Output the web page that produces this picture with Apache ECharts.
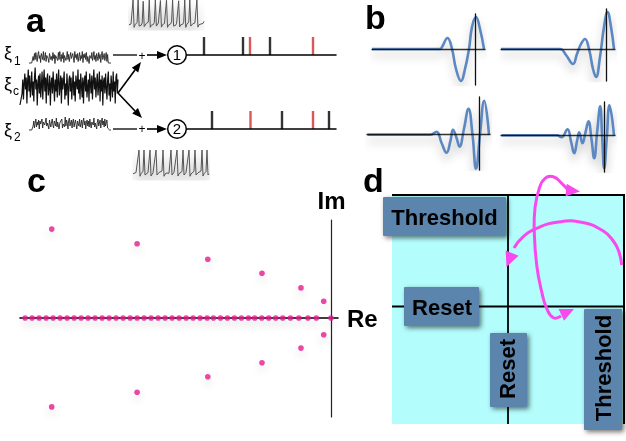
<!DOCTYPE html>
<html>
<head>
<meta charset="utf-8">
<script src="https://cdn.jsdelivr.net/npm/echarts@6/dist/echarts.min.js"></script>
<style>
  html, body { margin: 0; padding: 0; background: #fff; }
  #chart { width: 626px; height: 441px; }
</style>
</head>
<body>
<div id="chart"></div>
<script>
// ---- panel a: input noise (hand-read, arbitrary units) ----
const xi1 = [-5.5,-5.5,-5.5,-5.5,-5.5,-5.5,
  1,-3,4,-2,5,0,-4,3,6,-1, 2,-5,4,1,-2,6,-3,0,5,-4, 2,3,-1,-5,4,6,-2,1,-3,5,
  -1,3,-6,2,4,0,-3,5,-2,6, 1,-4,3,-1,5,-5,2,4,-3,0, 6,-2,3,-4,1,5,-1,-3,4,2,
  -5,6,0,3,-2,4,-4,1,5,-3, 2,-1,6,-5,3,0,4,-2,5,-4, 1,3,-6,2,4,-1,5,-3,0,6,
  -2,2,-4,4,1,-3,5,-1,3,-5, 2,6,-2,0,4,-3,1,5,-4,3,
  -5.5,-5.5,-5.5,-5.5,-5.5];
const xic = [-17.5,-17.5,-17.5,
  -6,8,-12,4,14,-2,10,-16,6,18, -4,12,-10,2,16,-8,6,-14,10,20, -2,8,-18,4,12,-6,14,-10,2,16,
  -12,6,18,-4,10,-16,8,14,-8,0, 12,-18,4,10,-6,16,2,-14,8,-4, 14,-10,6,18,-8,2,12,-16,10,-2,
  6,16,-12,4,-8,14,0,-18,8,12, -4,10,-12,2,16,-8,6,-14,12,4, -2,18,-6,8,-12,14,2,-10,10,-16,
  6,12,-4,16,-10,0,8,-14,14,4, -6,12,-12,6,18,-2,10,-10,4,14, -8,2,16,-14,8,-4,12,-18,6,10,
  -6,14,0,-12,8,16,-8,4,-14,12, 2,-10,16,-4,6,-16,10,14,-6,8];
const xi2 = [-6,-6,-6,-6,-6,-6,
  -2,3,-4,1,5,-3,2,-1,4,-5, 3,0,-2,5,-4,2,4,-1,-3,6, -2,1,3,-5,4,0,-3,2,5,-1,
  -4,3,1,-2,6,-3,2,4,-5,1, 3,-1,5,-4,0,2,-3,7,-2,4, 1,-5,3,6,-2,0,4,-4,2,5,
  -3,1,4,-1,-5,3,2,-2,5,-3, 0,4,-4,2,6,-1,3,-5,1,4, -2,3,-3,5,0,-4,2,4,-1,6,
  -3,1,3,-5,2,5,-2,0,4,-4, 2,6,-1,3,-3,5,-2,1,4,-4,
  -6,-6,-6,-6,-6];

// membrane potential traces (spike = 1)
const vTop = [0.05,0,0.08,0.12,1,-0.05,0.05,0.1,0.14,1,0,0.06,0.03,0.12,0.95,-0.02,0.04,0.1,0.07,0.15,
  1,-0.05,0.03,0.09,0.06,0.14,1,0,0.07,0.12,0.1,0.98,-0.04,0.05,0.02,0.1,0.15,1,-0.05,0.04,
  0.1,0.08,0.16,1,0,0.06,0.03,0.11,0.14,0.97,-0.03,0.05,0.1,0.07,0.15,1,-0.05,0.06,0.12,0.16,
  1,0,0.05,0.09,0.06,0.12,0.16,1,-0.04,0.05,0.1,0.08,0.14,0.1,0.18];
const vBottom = [0.05,0,0.06,0.1,0.07,0.14,1,-0.05,0.05,0.1,0.15,1,0,0.06,0.03,0.1,0.14,1,-0.04,0.04,
  0.09,0.06,0.15,1,0,0.05,0.1,0.07,0.12,0.16,1,-0.05,0.03,0.08,0.05,0.1,0.07,0.15,1,0,
  0.06,0.11,0.15,0.16,1,-0.04,0.05,0.09,0.06,0.14,1,0,0.06,0.1,0.08,0.15,1,-0.05,0.04,0.1,
  0.07,0.15,1,0,0.05,0.09,0.06,0.12,0.16,1,-0.04,0.05,0.1,0.14,1,0,0.05];

// spike rasters (ms); red = synchronous spikes
const row1Spikes = [17, 56, 83];
const row1Sync = [63, 126];
const row2Spikes = [25, 95, 142];
const row2Sync = [63.5, 126];

// ---- panel b: four filters, [t, amplitude] ----
const filterA = [[-103,0],[-35,0],[-33,2],[-27.5,11],[-23,0],[-19,-20],[-14,-32],[-10,-20],[-6,0],[-3,22],[1,32],[5,20],[9,0]];
const filterB = [[-105,0],[-46,0],[-40,-6],[-33,-15],[-29,-5],[-25,5],[-21,10],[-17,0],[-13,-20],[-10,-28],[-6,-8],[-2,22],[1.5,37],[5,22],[8,0]];
const filterC = [[-112,0],[-49,0],[-43,3],[-38,-8],[-33,-18],[-29,-6],[-26.5,5],[-23,-3],[-20,-12],[-15.5,6],[-11,26],[-7,0],[-3.5,-34],[0.5,0],[4.7,34],[9.5,0]];
const filterD = [[-103,0],[-47.5,0],[-43,-2],[-37,6],[-33.5,-6],[-30.3,-18],[-27.5,-6],[-25.3,3],[-22,-8],[-19,3],[-16,14],[-13,-4],[-10.3,-23],[-7.3,4],[-4.3,29],[-2.3,-2],[-0.3,-33],[2.3,-2],[5,30],[9.5,0]];

// ---- panel c: eigenvalues ----
const realEig = [-43.7,-42.7,-41.7,-40.7,-39.7,-38.7,-37.7,-36.7,-35.7,-34.7,-33.7,-32.7,-31.7,-30.7,
  -29.7,-28.7,-27.7,-26.7,-25.7,-24.7,-23.7,-22.7,-21.7,-20.7,-19.7,-18.7,-17.7,-16.8,-15.8,-14.8,
  -13.8,-12.8,-11.8,-10.9,-9.9,-8.9,-7.9,-6.9,-5.8,-4.6,-3.3,-2.1,0];
const complexRe = [-39.9, -27.7, -17.6, -9.86, -4.29, -1.04];
const complexIm = [12.7, 10.6, 8.4, 6.4, 4.3, 2.4];

const FONT = '"Liberation Sans", Arial, sans-serif';
const PINK = '#e8198e';
const MAGENTA = '#f74aee';
const BLUE = '#5b87c2';

const grids = [], xAxes = [], yAxes = [], series = [];
function panel(rect, xa, ya) {
  const i = grids.length;
  grids.push(rect);
  xAxes.push(Object.assign({ gridIndex: i, type: 'value' }, xa));
  yAxes.push(Object.assign({ gridIndex: i, type: 'value' }, ya));
  return i;
}
const hiddenAxis = (min, max) => ({ show: false, min, max });
const crossAxis = (min, max, color, width) => ({
  min, max, z: 5,
  axisLine: { show: true, onZero: true, lineStyle: { color, width } },
  axisTick: { show: false }, axisLabel: { show: false }, splitLine: { show: false }
});
const indexed = (arr) => arr.map((v, i) => [i, v]);

function trace(rect, values, ymin, ymax, style) {
  const g = panel(rect, hiddenAxis(0, values.length - 1), hiddenAxis(ymin, ymax));
  series.push({
    type: 'line', xAxisIndex: g, yAxisIndex: g, data: indexed(values),
    showSymbol: false, silent: true, lineStyle: style
  });
}

trace({ left: 29, top: 50, width: 82, height: 15 }, xi1, -7.5, 7.5, { color: '#262626', width: 0.9 });
trace({ left: 20, top: 65, width: 98, height: 45 }, xic, -22.5, 22.5, { color: '#111', width: 1.2 });
trace({ left: 29, top: 116, width: 82, height: 16 }, xi2, -8, 8, { color: '#262626', width: 0.9 });
const spikeStyle = { color: '#555', width: 1, shadowBlur: 12, shadowColor: 'rgba(0,0,0,0.35)', shadowOffsetY: 8 };
trace({ left: 129, top: 0, width: 75, height: 30 }, vTop, -0.15, 1, spikeStyle);
trace({ left: 133, top: 150, width: 76, height: 30 }, vBottom, -0.2, 1, spikeStyle);

function raster(top, black, red) {
  const g = panel({ left: 187, top, width: 149, height: 18 },
    crossAxis(0, 149, '#000', 1.5), hiddenAxis(0, 1));
  [[black, '#000'], [red, '#d0302f']].forEach(([times, color]) => {
    series.push({
      type: 'scatter', xAxisIndex: g, yAxisIndex: g, silent: true,
      data: times.map((t) => [t, 0.5]), symbol: 'rect', symbolSize: [2.4, 18],
      itemStyle: { color }
    });
  });
}
raster(37, row1Spikes, row1Sync);
raster(111, row2Spikes, row2Sync);

function filter(rect, data, xr, yr) {
  const g = panel(rect, crossAxis(xr[0], xr[1], 'rgba(0,0,0,0.8)', 1.3),
    crossAxis(yr[0], yr[1], '#111', 1.3));
  series.push({
    type: 'line', xAxisIndex: g, yAxisIndex: g, data, smooth: 0.45,
    showSymbol: false, silent: true,
    lineStyle: { color: BLUE, width: 2.6, shadowBlur: 10, shadowColor: 'rgba(0,0,0,0.25)', shadowOffsetY: 6 }
  });
}
filter({ left: 372, top: 14, width: 113, height: 71 }, filterA, [-103, 10], [-36, 35]);
filter({ left: 501, top: 9, width: 114, height: 72 }, filterB, [-105, 9], [-32, 40]);
filter({ left: 367, top: 97, width: 123, height: 73 }, filterC, [-112.5, 10.5], [-35.3, 37.7]);
filter({ left: 501, top: 102, width: 114, height: 70 }, filterD, [-103.5, 10.5], [-36.7, 33.3]);

const gc = panel({ left: 20, top: 220, width: 318, height: 197 },
  crossAxis(-44.43, 1.0, '#000', 1.6), crossAxis(-14.14, 14.0, '#222', 1.2));
const eigPoints = realEig.map((r) => [r, 0]);
complexRe.forEach((r, i) => { eigPoints.push([r, complexIm[i]]); eigPoints.push([r, -complexIm[i]]); });
series.push({
  type: 'scatter', xAxisIndex: gc, yAxisIndex: gc, data: eigPoints, symbolSize: 5.6, z: 6,
  silent: true,
  itemStyle: { color: PINK, shadowBlur: 8, shadowColor: 'rgba(0,0,0,0.18)', shadowOffsetY: 5 }
});

// ---- drawn diagram parts ----
function head(tx, ty, fx, fy, len, w, color, z) {
  const a = Math.atan2(ty - fy, tx - fx);
  const bx = tx - len * Math.cos(a), by = ty - len * Math.sin(a);
  const px = -Math.sin(a) * w, py = Math.cos(a) * w;
  return { type: 'polygon', z: z || 5, silent: true,
    shape: { points: [[tx, ty], [bx + px, by + py], [bx - px, by - py]] }, style: { fill: color } };
}
const seg = (x1, y1, x2, y2, color, width, z) => ({
  type: 'line', z: z || 4, silent: true, shape: { x1, y1, x2, y2 }, style: { stroke: color, lineWidth: width }
});
const label = (text, x, y, size, opts) => ({
  type: 'text', x, y, z: 8, silent: true, rotation: (opts && opts.rotation) || 0,
  style: Object.assign({ text, font: `bold ${size}px ${FONT}`, fill: '#000',
    align: 'left', verticalAlign: 'middle' }, opts && opts.style)
});
const box = (x, y, w, h) => ({
  type: 'rect', z: 6, silent: true, shape: { x, y, width: w, height: h, r: 1 },
  style: { fill: '#5b85ad', shadowBlur: 5, shadowColor: 'rgba(0,0,0,0.55)', shadowOffsetX: 2, shadowOffsetY: 2 }
});

const graphic = [
  // panel letters
  label('a', 26, 23, 34), label('b', 365, 20, 34), label('c', 27, 183, 34), label('d', 363, 183, 34),
  // noise labels
  label('ξ', 4, 54, 18, { style: { font: `18px ${FONT}` } }),
  label('1', 14, 62, 11, { style: { font: `12px ${FONT}` } }),
  label('ξ', 4, 85, 18, { style: { font: `18px ${FONT}` } }),
  label('c', 13, 92, 11, { style: { font: `12px ${FONT}` } }),
  label('ξ', 4, 131, 18, { style: { font: `18px ${FONT}` } }),
  label('2', 14, 138, 11, { style: { font: `12px ${FONT}` } }),
  // summation and arrows
  seg(113, 55, 137, 55, '#000', 1.3), seg(113, 129, 137, 129, '#000', 1.3),
  label('+', 142, 57, 11, { style: { font: `12px ${FONT}`, align: 'center' } }),
  label('+', 142, 130, 11, { style: { font: `12px ${FONT}`, align: 'center' } }),
  seg(147, 55, 160, 55, '#000', 1.6), head(167, 55, 150, 55, 10, 4, '#000'),
  seg(147, 129, 160, 129, '#000', 1.6), head(167, 129, 150, 129, 10, 4, '#000'),
  seg(118, 93, 135, 70, '#000', 1.6), head(141, 62, 118, 93, 10, 4, '#000'),
  seg(118, 93, 135, 111, '#000', 1.6), head(142, 118, 118, 93, 10, 4, '#000'),
  { type: 'circle', z: 5, silent: true, shape: { cx: 177, cy: 55, r: 9.3 }, style: { fill: '#fff', stroke: '#000', lineWidth: 1.5 } },
  { type: 'circle', z: 5, silent: true, shape: { cx: 177, cy: 129, r: 9.3 }, style: { fill: '#fff', stroke: '#000', lineWidth: 1.5 } },
  label('1', 177, 56, 14, { style: { font: `15px ${FONT}`, align: 'center' } }),
  label('2', 177, 130, 14, { style: { font: `15px ${FONT}`, align: 'center' } }),
  // panel c axis names
  label('Im', 331.5, 202, 24, { style: { align: 'center' } }),
  label('Re', 347, 320, 24),
  // panel d phase square
  { type: 'rect', z: 1, silent: true, shape: { x: 392, y: 195, width: 232, height: 229 }, style: { fill: '#b4fdfd' } },
  seg(392, 195, 625, 195, '#000', 2, 2), seg(624, 195, 624, 424, '#000', 2, 2),
  seg(508, 195, 508, 424, '#000', 1.8, 2), seg(392, 306.5, 624, 306.5, '#000', 1.8, 2),
  { type: 'polyline', z: 3, silent: true,
    shape: { smooth: 0.5, points: [[568, 190], [561.7, 183.3], [553.3, 176.7], [545, 178.3], [539.3, 188.3], [535, 208.3],
      [534.3, 231.7], [536.7, 265], [541.7, 291.7], [546.7, 308.3], [553.3, 317.7], [561, 316]] },
    style: { stroke: MAGENTA, lineWidth: 3, fill: null } },
  head(580, 191.5, 565, 190, 14, 6.5, MAGENTA, 3),
  head(574, 309, 558, 316.5, 14, 6.5, MAGENTA, 3),
  { type: 'polyline', z: 3, silent: true,
    shape: { smooth: 0.5, points: [[621.7, 265], [619, 252], [614, 242], [603.3, 231], [580, 222], [556.7, 222.3],
      [536.7, 228.3], [523.3, 236.7], [514, 248]] },
    style: { stroke: MAGENTA, lineWidth: 3, fill: null } },
  head(506.5, 267, 515, 246, 15, 7, MAGENTA, 3),
  box(383, 197, 123, 39), box(404, 287, 75, 39), box(490, 333, 37, 74), box(584, 309, 38, 121),
  label('Threshold', 444.5, 219, 22, { style: { align: 'center' } }),
  label('Reset', 442, 309, 22, { style: { align: 'center' } }),
  label('Reset', 509, 369, 22, { rotation: Math.PI / 2, style: { align: 'center' } }),
  label('Threshold', 605, 368, 22, { rotation: Math.PI / 2, style: { align: 'center' } })
];

const chart = echarts.init(document.getElementById('chart'));
chart.setOption({
  animation: false,
  backgroundColor: '#fff',
  grid: grids,
  xAxis: xAxes,
  yAxis: yAxes,
  series,
  graphic
});
</script>
</body>
</html>
